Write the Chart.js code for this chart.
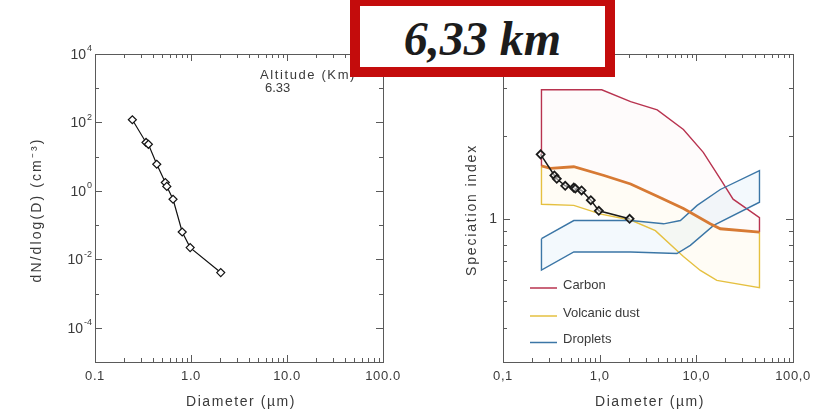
<!DOCTYPE html>
<html>
<head>
<meta charset="utf-8">
<script src="https://cdn.jsdelivr.net/npm/chart.js@4.4.1/dist/chart.umd.min.js"></script>
<style>
  html, body { margin: 0; padding: 0; background: #fff; width: 831px; height: 416px; overflow: hidden; }
  body { position: relative; font-family: 'Liberation Sans', Arial, sans-serif; }
  #sizeDist { position: absolute; left: 0; top: 0; }
  #specIndex { position: absolute; left: 415px; top: 0; }
  #badge {
    position: absolute; left: 350px; top: -4px; width: 265px; height: 81px;
    box-sizing: border-box; border: 10px solid #c40c0c; background: #fff;
    display: flex; align-items: center; justify-content: center;
    font-family: 'Liberation Serif', 'Times New Roman', serif; font-style: italic; font-weight: bold;
    font-size: 48px; color: #1c1c1c; padding-top: 4px; z-index: 5;
  }
</style>
</head>
<body>
<canvas id="sizeDist" width="415" height="416"></canvas>
<canvas id="specIndex" width="416" height="416"></canvas>
<div id="badge">6,33 km</div>
<script>
// Particle diameters (µm) of the size bins
const diameter = [0.245, 0.34, 0.36, 0.44, 0.54, 0.56, 0.65, 0.81, 0.98, 2.04];
// Number size distribution dN/dlog(D) (cm^-3)
const numberDist = [120, 26, 23, 6.0, 1.76, 1.35, 0.57, 0.063, 0.022, 0.0041];
// Speciation index measured in each bin
const speciation = [1.72, 1.44, 1.40, 1.32, 1.30, 1.29, 1.27, 1.17, 1.07, 1.00];

// Reference domains of the particle types (diameter, index)
const carbonUpperD = [0.25, 0.25, 1.05, 2.09, 3.94, 7.35, 11.8, 17.7, 24, 45, 45];
const carbonUpperI = [1.56, 2.96, 2.96, 2.68, 2.50, 2.12, 1.75, 1.40, 1.18, 1.01, 0.895];
const sharedD = [0.25, 0.31, 0.54, 1.11, 2.09, 3.94, 7.35, 13.9, 17.7, 45];
const sharedI = [1.56, 1.53, 1.55, 1.44, 1.34, 1.21, 1.09, 0.96, 0.92, 0.895];
const dustLowerD = [0.25, 0.25, 0.54, 1.03, 2.09, 3.77, 7.35, 11.0, 16.3, 45, 45];
const dustLowerI = [1.56, 1.13, 1.12, 1.04, 0.99, 0.905, 0.728, 0.648, 0.596, 0.561, 0.895];
const dropUpperD = [0.25, 0.54, 2.09, 4.59, 6.84, 10.2, 17.7, 45];
const dropUpperI = [0.846, 0.986, 0.986, 0.959, 0.986, 1.12, 1.28, 1.50];
const dropLowerD = [0.25, 0.54, 2.09, 6.3, 8.67, 15.1, 45];
const dropLowerI = [0.65, 0.757, 0.757, 0.747, 0.80, 0.946, 1.15];

// Axis labels
const xTickValues = [0.1, 1, 10, 100];
const xTickLabelsL = ['0.1', '1.0', '10.0', '100.0'];
const xTickLabelsR = ['0,1', '1,0', '10,0', '100,0'];
const yTickValuesL = [1e4, 1e2, 1, 1e-2, 1e-4];
const yTickExpL = ['4', '2', '0', '-2', '-4'];
const yTickValuesR = [1];
const yTickLabelsR = ['1'];
const speciesNames = ['Carbon', 'Volcanic dust', 'Droplets'];
const speciesColors = ['#b8334f', '#e5c040', '#3b76a6'];
const sharedColor = '#d77a34';

const pts = (xs, ys) => xs.map((x, i) => ({ x, y: ys[i] }));
const ring = (ux, uy, lx, ly) => pts(ux, uy).concat(pts(lx, ly).reverse(), [{ x: ux[0], y: uy[0] }]);

const TXT = '#3a3a3a';
const FRAME = '#5a5a5a';
const SANS = '"Liberation Sans", Arial, sans-serif';

function logTicks(min, max) {
  const out = [];
  for (let e = Math.floor(Math.log10(min)) - 1; e <= Math.ceil(Math.log10(max)); e++) {
    for (let m = 1; m < 10; m++) {
      const v = m * Math.pow(10, e);
      if (v >= min * 0.999 && v <= max * 1.001) out.push({ v, major: m === 1 });
    }
  }
  return out;
}

// text spread out to a given run length (wide plotter lettering)
function spacedText(ctx, str, x, y, runLength) {
  ctx.letterSpacing = '0px';
  const w = ctx.measureText(str).width;
  const n = [...str].length;
  ctx.letterSpacing = Math.max(0, (runLength - w) / n) + 'px';
  ctx.fillText(str, x, y);
  ctx.letterSpacing = '0px';
}

function drawPow(ctx, exp, xr, yc) {
  ctx.font = '14px ' + SANS;
  const wb = ctx.measureText('10').width;
  ctx.font = '9px ' + SANS;
  const we = ctx.measureText(exp).width;
  ctx.textAlign = 'left';
  ctx.textBaseline = 'middle';
  ctx.font = '14px ' + SANS;
  ctx.fillText('10', xr - we - wb - 1, yc + 1);
  ctx.font = '9px ' + SANS;
  ctx.fillText(exp, xr - we, yc - 5);
}

// frame with inward ticks, tick labels and axis titles
const axesFrame = {
  id: 'axesFrame',
  beforeDatasetsDraw(chart, args, o) {
    const ctx = chart.ctx, a = chart.chartArea, xs = chart.scales.x, ys = chart.scales.y;
    ctx.save();
    ctx.strokeStyle = FRAME;
    ctx.lineWidth = 1;
    ctx.strokeRect(Math.round(a.left) + 0.5, Math.round(a.top) + 0.5, Math.round(a.right - a.left), Math.round(a.bottom - a.top));
    ctx.beginPath();
    logTicks(xs.min, xs.max).forEach(t => {
      const px = Math.round(xs.getPixelForValue(t.v)) + 0.5;
      const len = t.major ? 7 : 4;
      ctx.moveTo(px, a.bottom); ctx.lineTo(px, a.bottom - len);
      ctx.moveTo(px, a.top); ctx.lineTo(px, a.top + len);
    });
    o.yTicks.forEach(t => {
      const py = Math.round(ys.getPixelForValue(t.v)) + 0.5;
      const len = t.major ? 7 : 4;
      ctx.moveTo(a.left, py); ctx.lineTo(a.left + len, py);
      ctx.moveTo(a.right, py); ctx.lineTo(a.right - len, py);
    });
    ctx.stroke();

    ctx.fillStyle = TXT;
    ctx.font = '13px ' + SANS;
    ctx.textAlign = 'center';
    ctx.textBaseline = 'middle';
    ctx.letterSpacing = '0.6px';
    xTickValues.forEach((v, i) => ctx.fillText(o.xLabels[i], xs.getPixelForValue(v), a.bottom + 14));
    ctx.letterSpacing = '0px';
    if (o.yExp) {
      o.yVals.forEach((v, i) => drawPow(ctx, o.yExp[i], a.left - 3, ys.getPixelForValue(v)));
    } else {
      ctx.font = '14px ' + SANS;
      ctx.textAlign = 'right';
      o.yVals.forEach((v, i) => ctx.fillText(o.yLabels[i], a.left - 6, ys.getPixelForValue(v)));
    }

    ctx.font = '14px ' + SANS;
    ctx.textAlign = 'center';
    spacedText(ctx, 'Diameter (µm)', (a.left + a.right) / 2 + 2, a.bottom + 40, 110);
    ctx.save();
    ctx.translate(o.yTitleX, o.yTitleY);
    ctx.rotate(-Math.PI / 2);
    spacedText(ctx, o.yTitle, 0, 0, o.yTitleLen);
    ctx.restore();
    ctx.restore();
  }
};

const baseOptions = (pad, yMin, yMax) => ({
  responsive: false,
  animation: false,
  devicePixelRatio: 1,
  layout: { padding: pad },
  plugins: { legend: { display: false }, tooltip: { enabled: false } },
  scales: {
    x: { type: 'logarithmic', min: 0.1, max: 100, display: false },
    y: { type: 'logarithmic', min: yMin, max: yMax, display: false }
  }
});

// Left panel: number size distribution
const optL = baseOptions({ left: 95, right: 32, top: 54, bottom: 54 }, 1e-5, 1e4);
optL.plugins.axesFrame = {
  xLabels: xTickLabelsL,
  yVals: yTickValuesL, yExp: yTickExpL,
  yTicks: [-5, -4, -3, -2, -1, 0, 1, 2, 3, 4].map(e => ({ v: Math.pow(10, e), major: e % 2 === 0 })),
  yTitle: 'dN/dlog(D) (cm⁻³)', yTitleX: 37, yTitleY: 210, yTitleLen: 145
};
new Chart(document.getElementById('sizeDist'), {
  type: 'scatter',
  data: {
    datasets: [{
      data: pts(diameter, numberDist),
      showLine: true,
      borderColor: '#111',
      borderWidth: 1.2,
      pointStyle: 'rectRot',
      pointRadius: 4,
      pointBackgroundColor: '#fff',
      pointBorderColor: '#111',
      pointBorderWidth: 1.2
    }]
  },
  options: optL,
  plugins: [axesFrame, {
    id: 'altitude',
    afterDraw(chart) {
      const ctx = chart.ctx;
      ctx.save();
      ctx.fillStyle = TXT;
      ctx.font = '13px ' + SANS;
      ctx.textBaseline = 'middle';
      ctx.textAlign = 'left';
      spacedText(ctx, 'Altitude (Km)', 260, 75, 96);
      spacedText(ctx, '6.33', 265, 88, 25);
      ctx.restore();
    }
  }]
});

// Right panel: speciation index with particle-type domains
const optR = baseOptions({ left: 88, right: 38, top: 54, bottom: 54 }, 0.3, 4);
optR.plugins.axesFrame = {
  xLabels: xTickLabelsR,
  yVals: yTickValuesR, yLabels: yTickLabelsR,
  yTicks: logTicks(0.3, 4),
  yTitle: 'Speciation index', yTitleX: 57, yTitleY: 210, yTitleLen: 132
};
const lineDs = (data, color, width, order) => ({
  data, showLine: true, borderColor: color, borderWidth: width, pointRadius: 0, fill: false, order
});
const fillDs = (data, color) => ({
  data, showLine: true, borderWidth: 0, borderColor: 'rgba(0,0,0,0)', backgroundColor: color,
  pointRadius: 0, fill: 'shape', order: 20
});
new Chart(document.getElementById('specIndex'), {
  type: 'scatter',
  data: {
    datasets: [
      {
        data: pts(diameter, speciation),
        showLine: true,
        borderColor: '#1a1a1a',
        borderWidth: 1.5,
        pointStyle: 'rectRot',
        pointRadius: 4,
        pointBackgroundColor: 'rgba(255,255,255,0.5)',
        pointBorderColor: '#1a1a1a',
        pointBorderWidth: 1.8,
        order: 0
      },
      lineDs(pts(carbonUpperD, carbonUpperI), speciesColors[0], 1.4, 3),
      lineDs(pts(dustLowerD, dustLowerI), speciesColors[1], 1.4, 4),
      lineDs(ring(dropUpperD, dropUpperI, dropLowerD, dropLowerI), speciesColors[2], 1.4, 2),
      lineDs(pts(sharedD, sharedI), sharedColor, 2.8, 1),
      fillDs(ring(carbonUpperD.slice(1, -1), carbonUpperI.slice(1, -1), sharedD, sharedI), 'rgba(240,170,185,0.05)'),
      fillDs(ring(sharedD, sharedI, dustLowerD.slice(1, -1), dustLowerI.slice(1, -1)), 'rgba(250,225,140,0.09)'),
      fillDs(ring(dropUpperD, dropUpperI, dropLowerD, dropLowerI), 'rgba(170,215,240,0.14)')
    ]
  },
  options: optR,
  plugins: [axesFrame, {
    id: 'speciesLegend',
    afterDraw(chart) {
      const ctx = chart.ctx;
      const rows = [285, 313, 339.5];
      ctx.save();
      ctx.font = '13px ' + SANS;
      ctx.textBaseline = 'middle';
      ctx.textAlign = 'left';
      speciesNames.forEach((name, i) => {
        ctx.strokeStyle = speciesColors[i];
        ctx.lineWidth = 1.5;
        ctx.beginPath();
        ctx.moveTo(115, rows[i] + 3);
        ctx.lineTo(142, rows[i] + 3);
        ctx.stroke();
        ctx.fillStyle = TXT;
        ctx.fillText(name, 148, rows[i]);
      });
      ctx.restore();
    }
  }]
});
</script>
</body>
</html>
